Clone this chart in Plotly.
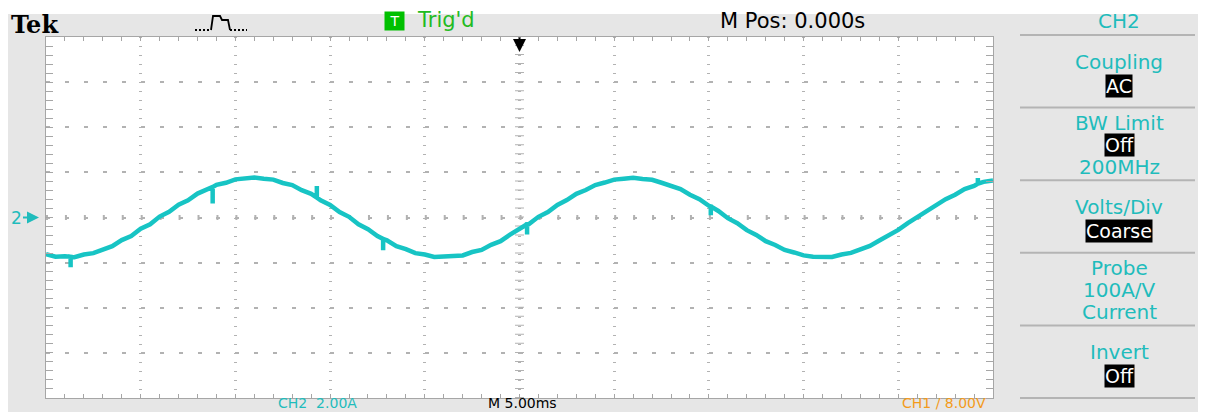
import plotly.graph_objects as go

# ---------------- data ----------------
time_ms = [-25 + 0.5 * i for i in range(101)]
current_a = [
    -1.62, -1.74, -1.72, -1.76, -1.64, -1.58, -1.40, -1.27, -1.00, -0.82,
    -0.50, -0.30, 0.04, 0.25, 0.57, 0.76, 1.06, 1.22, 1.45, 1.54,
    1.69, 1.71, 1.77, 1.72, 1.68, 1.53, 1.44, 1.21, 1.05, 0.76,
    0.56, 0.24, 0.03, -0.30, -0.52, -0.82, -1.01, -1.27, -1.40, -1.58,
    -1.64, -1.75, -1.73, -1.71, -1.68, -1.53, -1.44, -1.21, -1.05, -0.76,
    -0.50, -0.29, 0.03, 0.24, 0.56, 0.77, 1.05, 1.22, 1.44, 1.55,
    1.68, 1.72, 1.76, 1.71, 1.67, 1.54, 1.40, 1.26, 1.01, 0.81,
    0.52, 0.29, -0.03, -0.25, -0.56, -0.77, -1.05, -1.22, -1.44, -1.55,
    -1.68, -1.74, -1.73, -1.75, -1.64, -1.57, -1.41, -1.26, -1.02, -0.80,
    -0.55, -0.25, 0.02, 0.29, 0.52, 0.81, 1.01, 1.26, 1.40, 1.58,
    1.64,
]
# short glitches on the trace: time, level before, tip level
glitch_t = [-23.7, -16.2, -10.7, -7.2, 0.4, 10.1, 24.2]
glitch_base = [-1.74, 1.35, 0.88, -0.95, -0.30, 0.49, 1.50]
glitch_tip = [-2.20, 0.62, 1.40, -1.45, -0.75, 0.10, 1.75]

x_range = [-25, 25]   # 5 ms/div, 10 div
y_range = [-8, 8]     # 2.00 A/div, 8 div

menu_title = "CH2"
menu_items = [
    ["Coupling", ("AC",)],
    ["BW Limit", ("Off",), "200MHz"],
    ["Volts/Div", ("Coarse",)],
    ["Probe", "100A/V", "Current"],
    ["Invert", ("Off",)],
]
status_bottom = ["CH2  2.00A", "M 5.00ms", "CH1 / 8.00V"]

# ---------------- build trace with glitches ----------------
pts = [(t, v, 0) for t, v in zip(time_ms, current_a)]
for t, b, p in zip(glitch_t, glitch_base, glitch_tip):
    pts.append((t, b, 1))
    pts.append((t, p, 2))
    pts.append((t, b, 3))
pts.sort(key=lambda q: (q[0], q[2]))
xs = [q[0] for q in pts]
ys = [q[1] for q in pts]

W, H = 1206, 412
BODY = 8                       # default page margin of the html body
L, R, T, B = 46, 993, 37, 398  # graticule in window pixels


def px(x):
    return (x - L) / (R - L)


def py(y):
    return (B - y) / (B - T)


CYAN = "#17c4c4"
TXT_CYAN = "#1fbcbc"
GRID = "#b2b2b2"
PANEL = "#e6e6e6"
FONT = "DejaVu Sans"

fig = go.Figure()
fig.add_trace(go.Scatter(x=xs, y=ys, mode="lines",
                         line=dict(color=CYAN, width=4.5),
                         hoverinfo="skip", showlegend=False))

shapes = []
ann = []

# white strip above the grey panel
shapes.append(dict(type="rect", xref="paper", yref="paper", x0=px(-5), x1=px(1230),
                   y0=py(14), y1=py(-5), fillcolor="white", line_width=0, layer="below"))

# center cross of graticule
shapes.append(dict(type="line", xref="x", yref="paper", x0=0, x1=0, y0=0, y1=1,
                   line=dict(color=GRID, width=9, dash="1px,8.025px"), layer="below"))
shapes.append(dict(type="line", xref="paper", yref="y", x0=0, x1=1, y0=0, y1=0,
                   line=dict(color=GRID, width=5, dash="2px,16.94px"), layer="below"))

# menu separators
seps = [35 + 72.6 * k for k in range(6)]
for s in seps:
    shapes.append(dict(type="line", xref="paper", yref="paper", x0=px(1020), x1=px(1195),
                       y0=py(s), y1=py(s), line=dict(color="#b4b4b4", width=2)))

# pulse icon (acquire mode)
shapes.append(dict(type="path", xref="paper", yref="paper",
                   path=f"M{px(211)},{py(30)} L{px(213)},{py(16)} L{px(220)},{py(16)} "
                        f"L{px(222)},{py(20)} L{px(228)},{py(20)} L{px(230)},{py(30)}",
                   line=dict(color="black", width=1.8)))
shapes.append(dict(type="line", xref="paper", yref="paper", x0=px(195), x1=px(211),
                   y0=py(30), y1=py(30), line=dict(color="black", width=1.8, dash="2px,2px")))
shapes.append(dict(type="line", xref="paper", yref="paper", x0=px(230), x1=px(247),
                   y0=py(30), y1=py(30), line=dict(color="black", width=1.8, dash="2px,2px")))


def text(x, y, s, color="black", size=19, anchor="center", family=FONT, yanchor="middle", **kw):
    ann.append(dict(xref="paper", yref="paper", x=px(x), y=py(y), text=s, showarrow=False,
                    xanchor=anchor, yanchor=yanchor,
                    font=dict(color=color, size=size, family=family), **kw))


# top status line
text(10, 9, "<b>Tek</b>", size=24, anchor="left", family="DejaVu Serif", yanchor="top",
     borderpad=0)
text(394, 21, "T", color="white", size=14, bgcolor="#00c000", width=17, height=16)
text(446, 20, "Trig'd", color="#22bb22", size=21)
text(792, 21, "M Pos: 0.000s", size=21)
text(1119, 21, menu_title, color=TXT_CYAN, size=20)

# side menu
CX = 1119
for k, item in enumerate(menu_items):
    top = seps[k]
    offs = [27, 51] if len(item) == 2 else [15, 37, 59]
    for s, o in zip(item, offs):
        if isinstance(s, tuple):
            text(CX, top + o, s[0], color="white", size=19, bgcolor="black", borderpad=0)
        else:
            text(CX, top + o, s, color=TXT_CYAN, size=20)

# bottom status line
for s, cx, col in zip(status_bottom, [317, 522, 944], [TXT_CYAN, "black", "#f39b1b"]):
    text(cx, 403, s, color=col, size=14)

# trigger position arrow
ann.append(dict(xref="x", yref="paper", x=0, y=py(52), ax=0, ay=-16, text="",
                showarrow=True, arrowhead=2, arrowsize=1.3, arrowwidth=2,
                arrowcolor="black"))
# channel 2 ground marker
ann.append(dict(xref="paper", yref="y", x=0, y=0, ax=-30, ay=0, text="2",
                showarrow=True, arrowhead=2, arrowsize=1.2, arrowwidth=2,
                arrowcolor=TXT_CYAN, standoff=7,
                font=dict(color=TXT_CYAN, size=17, family=FONT)))

axis_common = dict(showticklabels=False, zeroline=False, showline=True,
                   linecolor="#a6a6a6", linewidth=1, mirror="allticks",
                   ticks="inside", tickcolor="#a6a6a6", fixedrange=True)

fig.update_layout(
    width=W, height=H,
    margin=dict(l=L - BODY, r=W + BODY - R, t=T - BODY, b=H + BODY - B, pad=0),
    paper_bgcolor=PANEL, plot_bgcolor="white",
    shapes=shapes, annotations=ann, showlegend=False,
    xaxis=dict(range=x_range, dtick=5, tick0=0, ticklen=4,
               showgrid=True, gridcolor=GRID, gridwidth=3, griddash="1px,8.025px",
               minor=dict(dtick=1, ticks="inside", ticklen=4, tickcolor="#a6a6a6",
                          showgrid=False),
               **axis_common),
    yaxis=dict(range=y_range, dtick=2, tick0=0, ticklen=7,
               showgrid=True, gridcolor=GRID, gridwidth=1.5, griddash="4px,14.94px",
               minor=dict(dtick=0.4, ticks="inside", ticklen=7, tickcolor="#a6a6a6",
                          showgrid=False),
               **axis_common),
)

fig.write_html("out.html")
